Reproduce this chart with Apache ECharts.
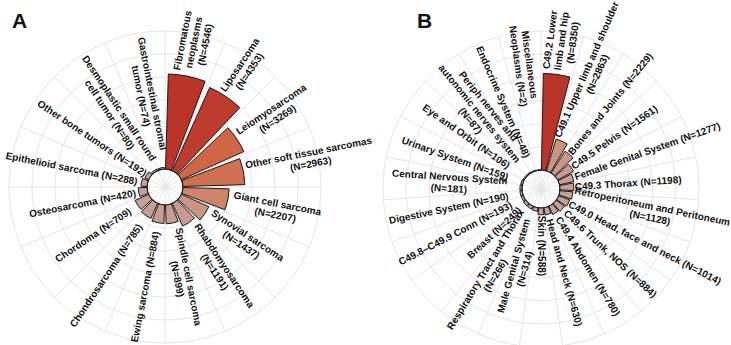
<!DOCTYPE html>
<html>
<head>
<meta charset="utf-8">
<script src="https://cdn.jsdelivr.net/npm/echarts@6/dist/echarts.min.js"></script>
<style>
  html, body { margin: 0; padding: 0; background: #fff; }
  #chart { width: 731px; height: 345px; }
</style>
</head>
<body>
<div id="chart"></div>
<script>
// Panel A - histology groups
const catsA = [
  'Fibromatous neoplasms', 'Liposarcoma', 'Leiomyosarcoma', 'Other soft tissue sarcomas',
  'Giant cell sarcoma', 'Synovial sarcoma', 'Rhabdomyosarcoma', 'Spindle cell sarcoma',
  'Ewing sarcoma', 'Chondrosarcoma', 'Chordoma', 'Osteosarcoma', 'Epithelioid sarcoma',
  'Other bone tumors', 'Desmoplastic small round cell tumor', 'Gastrointestinal stromal tumor'
];
const valsA = [4546, 4353, 3269, 2963, 2207, 1437, 1191, 899, 884, 785, 709, 420, 288, 192, 80, 74];
const labelsA = [
  'Fibromatous\nneoplasms\n(N=4546)', 'Liposarcoma\n(N=4353)', 'Leiomyosarcoma\n(N=3269)',
  'Other soft tissue sarcomas\n(N=2963)', 'Giant cell sarcoma\n(N=2207)', 'Synovial sarcoma\n(N=1437)',
  'Rhabdomyosarcoma\n(N=1191)', 'Spindle cell sarcoma\n(N=899)', 'Ewing sarcoma (N=884)',
  'Chondrosarcoma (N=785)', 'Chordoma (N=709)', 'Osteosarcoma (N=420)', 'Epithelioid sarcoma (N=288)',
  'Other bone tumors (N=192)', 'Desmoplastic small round\ncell tumor (N=80)', 'Gastrointestinal stromal\ntumor (N=74)'
];
// gap (px) between bar end and its label, as the labels were nudged in the figure
const padA = [4, 3, 4, 3, 5, 5, 6, 6, 9, 11, 9, 3, 4, 1, 9, 17];

// Panel B - primary site
const catsB = [
  'C49.2 Lower limb and hip', 'C49.1 Upper limb and shoulder', 'Bones and Joints', 'C49.5 Pelvis',
  'Female Genital System', 'C49.3 Thorax', 'Retroperitoneum and Peritoneum', 'C49.0 Head, face and neck',
  'C49.6 Trunk, NOS', 'C49.4 Abdomen', 'Head and Neck', 'Skin', 'Male Genital System',
  'Respiratory Tract and Thorax', 'Breast', 'C49.8-C49.9 Conn', 'Digestive System',
  'Central Nervous System', 'Urinary System', 'Eye and Orbit', 'Periph nerves and autonomic nerves system',
  'Endocrine System', 'Miscellaneous Neoplasms'
];
const valsB = [8350, 2863, 2229, 1561, 1277, 1198, 1128, 1014, 884, 780, 630, 588, 314, 266, 249, 193, 190, 181, 159, 106, 87, 48, 2];
const labelsB = [
  'C49.2 Lower\nlimb and hip\n(N=8350)', 'C49.1 Upper limb and shoulder\n(N=2863)', 'Bones and Joints (N=2229)',
  'C49.5 Pelvis (N=1561)', 'Female Genital System (N=1277)', 'C49.3 Thorax (N=1198)',
  'Retroperitoneum and Peritoneum\n(N=1128)', 'C49.0 Head, face and neck (N=1014)', 'C49.6 Trunk, NOS (N=884)',
  'C49.4 Abdomen (N=780)', 'Head and Neck (N=630)', 'Skin (N=588)', 'Male Genital System\n(N=314)',
  'Respiratory Tract and Thorax\n(N=266)', 'Breast (N=249)', 'C49.8\u2013C49.9 Conn (N=193)', 'Digestive System (N=190)',
  'Central Nervous System\n(N=181)', 'Urinary System (N=159)', 'Eye and Orbit (N=106)',
  'Periph nerves and\nautonomic nerves system\n(N=87)', 'Endocrine System (N=48)', 'Miscellaneous\nNeoplasms (N=2)'
];
const padB = [4, 2, 1, 1, 2, 1, 1, 1, 4, 5, 5, 1, 10, 6, 7, 12, 12, 13, 14, 19, 16, 15, 65];

const FONT = '"Liberation Sans", Arial, sans-serif';
const colorStops = ['#c2a6a3', '#c99b8f', '#d08367', '#cf6343', '#bb3429'];

function hexToRgb(h) {
  return [1, 3, 5].map(i => parseInt(h.slice(i, i + 2), 16));
}

// value -> fill colour (linear between stops)
function fillFor(v, max) {
  const t = Math.max(0, Math.min(1, v / max)) * (colorStops.length - 1);
  const i = Math.min(Math.floor(t), colorStops.length - 2);
  const f = t - i;
  const a = hexToRgb(colorStops[i]);
  const b = hexToRgb(colorStops[i + 1]);
  const c = a.map((x, k) => Math.round(x + (b[k] - x) * f));
  return 'rgb(' + c.join(',') + ')';
}

const measureCtx = document.createElement('canvas').getContext('2d');
measureCtx.font = 'bold 10px ' + FONT;

function labelRenderer(labels, pads, maxV) {
  return function (params, api) {
    const c = api.value(1);
    const v = api.value(0);
    const p0 = api.coord([0, c]);
    const p1 = api.coord([maxV, c]);
    const pe = api.coord([v, c]);
    let dx = p1[0] - p0[0];
    let dy = p1[1] - p0[1];
    const len = Math.hypot(dx, dy);
    dx /= len; dy /= len;
    const text = labels[params.dataIndex];
    const w = Math.max(...text.split('\n').map(s => measureCtx.measureText(s).width));
    const d = pads[params.dataIndex] + w / 2;
    const theta = (Math.atan2(dx, -dy) * 180 / Math.PI + 360) % 360;
    let rot = Math.atan2(-dy, dx);
    if (theta > 180.5) rot += Math.PI;
    return {
      type: 'text',
      x: pe[0] + dx * d,
      y: pe[1] + dy * d,
      rotation: rot,
      style: {
        text: text,
        align: 'center',
        verticalAlign: 'middle',
        fontSize: 10,
        fontWeight: 'bold',
        fontFamily: FONT,
        lineHeight: 11.5,
        fill: '#111'
      }
    };
  };
}

const gridColor = '#e6e6e6';

function polarAxes(idx, cats, max, interval) {
  return {
    angle: {
      polarIndex: idx, type: 'category', data: cats, startAngle: 90, clockwise: true,
      boundaryGap: true,
      axisLine: { show: false }, axisTick: { show: false }, axisLabel: { show: false },
      splitLine: { show: true, lineStyle: { color: gridColor, width: 1 } }
    },
    radius: {
      polarIndex: idx, type: 'value', min: 0, max: max, interval: interval,
      axisLine: { show: false }, axisTick: { show: false }, axisLabel: { show: false },
      splitLine: { show: true, lineStyle: { color: gridColor, width: 1 } }
    }
  };
}

function innerAxes(idx, cats) {
  return {
    angle: {
      polarIndex: idx, type: 'category', data: cats, startAngle: 90, clockwise: true,
      axisLine: { show: true, lineStyle: { color: '#111', width: 1.3 } },
      axisTick: { show: false }, axisLabel: { show: false },
      splitLine: { show: true, lineStyle: { color: gridColor, width: 1 } }
    },
    radius: {
      polarIndex: idx, type: 'value', min: 0, max: 1,
      axisLine: { show: false }, axisTick: { show: false }, axisLabel: { show: false },
      splitLine: { show: false }
    }
  };
}

const maxA = 6600, maxB = 12000;
const axA = polarAxes(0, catsA, maxA, 1100);
const axB = polarAxes(1, catsB, maxB, 2000);
const inA = innerAxes(2, catsA);
const inB = innerAxes(3, catsB);

const chart = echarts.init(document.getElementById('chart'), null, { renderer: 'svg' });

chart.setOption({
  backgroundColor: '#fff',
  animation: false,
  title: [
    { text: 'A', left: 7, top: 5, textStyle: { fontSize: 21, fontWeight: 'bold', fontFamily: FONT, color: '#111' } },
    { text: 'B', left: 412, top: 5, textStyle: { fontSize: 21, fontWeight: 'bold', fontFamily: FONT, color: '#111' } }
  ],
  polar: [
    { center: [165, 187], radius: [18, 156] },
    { center: [541, 189], radius: [19, 158] },
    { center: [165, 187], radius: [0, 18] },
    { center: [541, 189], radius: [0, 19] }
  ],
  angleAxis: [axA.angle, axB.angle, inA.angle, inB.angle],
  radiusAxis: [axA.radius, axB.radius, inA.radius, inB.radius],
  series: [
    {
      type: 'bar', coordinateSystem: 'polar', polarIndex: 0,
      data: valsA, barCategoryGap: '15%',
      itemStyle: { color: p => fillFor(p.value, Math.max(...valsA)), borderColor: '#1a1a1a', borderWidth: 1 }
    },
    {
      type: 'bar', coordinateSystem: 'polar', polarIndex: 1,
      data: valsB, barCategoryGap: '15%',
      itemStyle: { color: p => fillFor(p.value, Math.max(...valsB)), borderColor: '#1a1a1a', borderWidth: 1 }
    },
    {
      type: 'custom', coordinateSystem: 'polar', polarIndex: 0, silent: true,
      data: catsA.map((c, i) => [valsA[i], c]),
      renderItem: labelRenderer(labelsA, padA, maxA)
    },
    {
      type: 'custom', coordinateSystem: 'polar', polarIndex: 1, silent: true,
      data: catsB.map((c, i) => [valsB[i], c]),
      renderItem: labelRenderer(labelsB, padB, maxB)
    }
  ]
});
</script>
</body>
</html>
